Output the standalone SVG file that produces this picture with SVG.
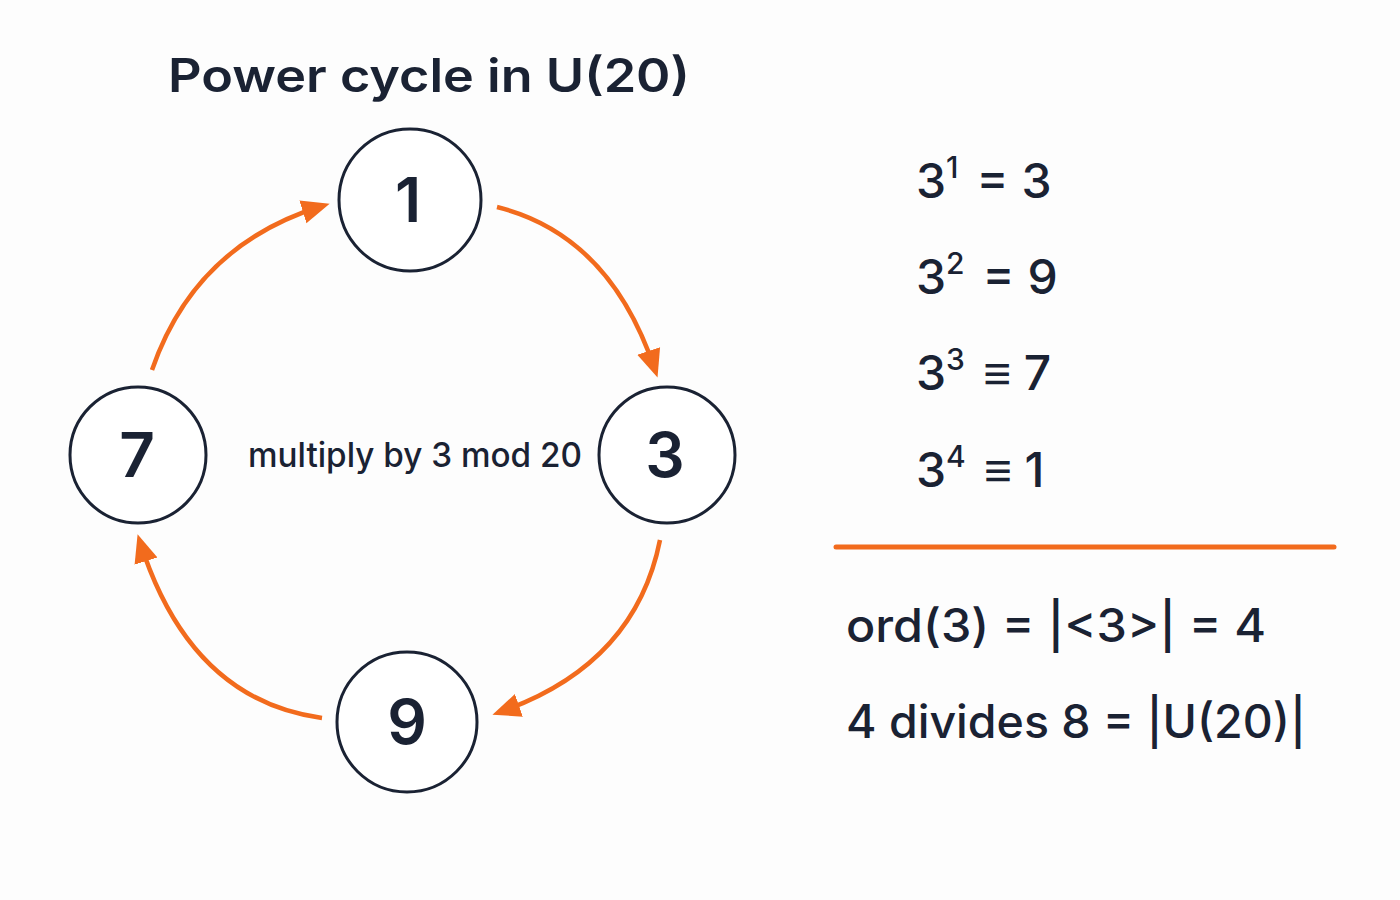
<svg xmlns="http://www.w3.org/2000/svg" width="1400" height="900" viewBox="0 0 1400 900">
<defs>
<marker id="a" markerWidth="30" markerHeight="30" refX="20" refY="15" orient="auto" markerUnits="userSpaceOnUse">
<path d="M0,3 L28,15 L0,27 Z" fill="#f26b1d"/>
</marker>
<style>
.n{fill:#fff;stroke:#1a2233;stroke-width:3}
.t{font-family:"Inter","Noto Sans",sans-serif;fill:#1a2233}
.c{fill:none;stroke:#f26b1d;stroke-width:4.5}
</style>
</defs>
<rect width="1400" height="900" fill="#fdfdfd"/>
<text class="t" x="168" y="92" font-size="46" font-weight="600" textLength="522" lengthAdjust="spacingAndGlyphs">Power cycle in U(20)</text>
<g id="connectors">
<path class="c" d="M497,207 Q610,235 655,370" marker-end="url(#a)"/>
<path class="c" d="M660,540 Q635,665 500,712" marker-end="url(#a)"/>
<path class="c" d="M322,718 Q190,700 140,542" marker-end="url(#a)"/>
<path class="c" d="M152,370 Q195,245 322,206" marker-end="url(#a)"/>
</g>
<g id="n1"><circle class="n" cx="410" cy="200" r="71"/><text class="t" x="408" y="222" font-size="62" font-weight="600" text-anchor="middle">1</text></g>
<g id="n3"><circle class="n" cx="667" cy="455" r="68"/><text class="t" x="665" y="477" font-size="62" font-weight="600" text-anchor="middle">3</text></g>
<g id="n9"><circle class="n" cx="407" cy="722" r="70"/><text class="t" x="407" y="744" font-size="62" font-weight="600" text-anchor="middle">9</text></g>
<g id="n7"><circle class="n" cx="138" cy="455" r="68"/><text class="t" x="137" y="477" font-size="62" font-weight="600" text-anchor="middle">7</text></g>
<text class="t" x="415" y="467" font-size="34" font-weight="500" text-anchor="middle" textLength="334" lengthAdjust="spacingAndGlyphs">multiply by 3 mod 20</text>
<g class="t" font-size="48" font-weight="500">
<text x="916" y="198">3<tspan font-size="30" dy="-20">1</tspan><tspan dy="20" dx="18">= 3</tspan></text>
<text x="916" y="294">3<tspan font-size="30" dy="-20">2</tspan><tspan dy="20" dx="18">= 9</tspan></text>
<text x="916" y="390">3<tspan font-size="30" dy="-20">3</tspan><tspan dy="20" dx="18">≡ 7</tspan></text>
<text x="916" y="487">3<tspan font-size="30" dy="-20">4</tspan><tspan dy="20" dx="18">≡ 1</tspan></text>
</g>
<line x1="836" y1="547" x2="1334" y2="547" stroke="#f26b1d" stroke-width="5" stroke-linecap="round"/>
<text class="t" x="846" y="642" font-size="46" font-weight="500" textLength="420" lengthAdjust="spacingAndGlyphs">ord(3) = |&lt;3&gt;| = 4</text>
<text class="t" x="846" y="738" font-size="46" font-weight="500" textLength="460" lengthAdjust="spacingAndGlyphs">4 divides 8 = |U(20)|</text>
</svg>
